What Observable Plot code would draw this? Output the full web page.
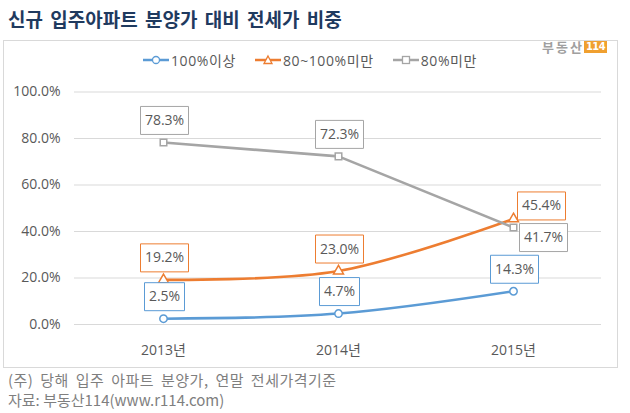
<!DOCTYPE html>
<html><head><meta charset="utf-8">
<script src="https://cdn.jsdelivr.net/npm/d3@7"></script>
<script src="https://cdn.jsdelivr.net/npm/@observablehq/plot@0.6"></script>
<style>
body{margin:0;background:#fff;}
#wrap{position:relative;width:630px;height:413px;overflow:hidden;font-family:"Open Sans","Noto Sans CJK KR",sans-serif;background:#fff;}
#title{position:absolute;left:8px;top:7px;font:bold 19px "Noto Sans CJK KR",sans-serif;color:#1f3a5f;line-height:24px;white-space:nowrap;word-spacing:3px;}
#box{position:absolute;left:3px;top:40px;width:613px;height:326px;border:1px solid #d9d9d9;}
#chart{position:absolute;left:0;top:40px;}
#legend{position:absolute;top:50px;left:143px;display:flex;align-items:center;height:20px;font-size:14px;color:#595959;white-space:nowrap;letter-spacing:0.6px;}
#legend .item{display:flex;align-items:center;margin-right:19px;}
#legend svg{margin-right:2px;}
#logo{position:absolute;left:542px;top:40px;height:14px;display:flex;align-items:center;white-space:nowrap;}
#logo .t{font:bold 13px "Noto Sans CJK KR",sans-serif;color:#a0a0a0;letter-spacing:2px;line-height:14px;}
#logo .b{margin-left:0px;background:#f0a030;color:#fff;font:bold 11px "Liberation Sans Narrow","DejaVu Sans Condensed",sans-serif;line-height:12px;padding:0 2px;letter-spacing:-0.5px;}
.foot{position:absolute;left:8px;font:15px "Noto Sans CJK KR",sans-serif;color:#7f7f7f;line-height:20px;white-space:nowrap;}
#foot1{word-spacing:3px;letter-spacing:0.5px;}
</style></head>
<body>
<div id="wrap">
  <div id="title"></div>
  <div id="box"></div>
  <div id="chart"></div>
  <div id="legend"></div>
  <div id="logo"><span class="t">부동산</span><span class="b">114</span></div>
  <div class="foot" id="foot1" style="top:370px"></div>
  <div class="foot" id="foot2" style="top:390px"></div>
</div>
<script>
const titleText = "신규 입주아파트 분양가 대비 전세가 비중";
const noteText = "(주) 당해 입주 아파트 분양가, 연말 전세가격기준";
const sourceText = "자료: 부동산114(www.r114.com)";
const years = ["2013년", "2014년", "2015년"];
const seriesNames = ["100%이상", "80~100%미만", "80%미만"];
const over100 = [2.5, 4.7, 14.3];
const from80to100 = [19.2, 23.0, 45.4];
const under80 = [78.3, 72.3, 41.7];
const yTicks = [0, 20, 40, 60, 80, 100];

const colors = ["#5b9bd5", "#ed7d31", "#a5a5a5"];
const symbols = ["circle", "triangle", "square"];

document.getElementById("title").textContent = titleText;
document.getElementById("foot1").textContent = noteText;
document.getElementById("foot2").textContent = sourceText;

const rows = [over100, from80to100, under80].flatMap((vals, si) =>
  vals.map((v, i) => ({year: years[i], series: seriesNames[si], value: v})));

// legend
const legend = document.getElementById("legend");
seriesNames.forEach((name, i) => {
  const item = document.createElement("div");
  item.className = "item";
  const c = colors[i];
  let marker;
  if (symbols[i] === "circle") marker = `<circle cx="13" cy="6" r="3.5" fill="#fff" stroke="${c}" stroke-width="1.3"/>`;
  else if (symbols[i] === "triangle") marker = `<path d="M13,2 L17,9.5 L9,9.5 Z" fill="#fff" stroke="${c}" stroke-width="1.3"/>`;
  else marker = `<rect x="9.5" y="2.5" width="7" height="7" fill="#fff" stroke="${c}" stroke-width="1.3"/>`;
  item.innerHTML = `<svg width="26" height="12"><line x1="0" x2="26" y1="6" y2="6" stroke="${c}" stroke-width="2.5"/>${marker}</svg><span>${name}</span>`;
  legend.appendChild(item);
});

const box = (w, h) => ({draw(ctx) { ctx.rect(-w / 2, -h / 2, w, h); }});
const fmt = d => d.value.toFixed(1) + "%";

function labels(data, dx, dy) {
  const longD = data.filter(d => fmt(d).length > 4);
  const shortD = data.filter(d => fmt(d).length <= 4);
  return [
    Plot.dot(longD, {x: "year", y: "value", symbol: box(48, 28), stroke: "series", fill: "white", strokeWidth: 1, dx, dy}),
    Plot.dot(shortD, {x: "year", y: "value", symbol: box(40, 28), stroke: "series", fill: "white", strokeWidth: 1, dx, dy}),
    Plot.text(data, {x: "year", y: "value", text: fmt, dx, dy, fill: "#595959", fontSize: 14})
  ];
}

const last = years[years.length - 1];
const normal = rows.filter(d => !(d.year === last && d.series !== seriesNames[0]));
const specialMid = rows.filter(d => d.year === last && d.series === seriesNames[1]);
const specialLow = rows.filter(d => d.year === last && d.series === seriesNames[2]);
const smoothRows = rows.filter(d => d.series !== seriesNames[2]);
const straightRows = rows.filter(d => d.series === seriesNames[2]);

const plot = Plot.plot({
  width: 630,
  height: 328,
  marginTop: 51.5,
  marginBottom: 44,
  marginLeft: 74,
  marginRight: 29,
  style: {background: "transparent", color: "#595959", fontFamily: '"Open Sans","Noto Sans CJK KR",sans-serif', fontSize: "14px"},
  x: {type: "point", domain: years, padding: 0.5},
  y: {domain: [0, 100]},
  color: {domain: seriesNames, range: colors},
  symbol: {domain: seriesNames, range: symbols},
  marks: [
    Plot.gridY({ticks: yTicks, stroke: "#d9d9d9", strokeOpacity: 1}),
    Plot.axisY({ticks: yTicks, tickFormat: d => d.toFixed(1) + "%", tickSize: 0, tickPadding: 14, fontSize: 14, label: null}),
    Plot.axisX({tickSize: 0, tickPadding: 21, fontSize: 14, label: null}),
    Plot.line(smoothRows, {x: "year", y: "value", z: "series", stroke: "series", strokeWidth: 2.6, curve: "catmull-rom"}),
    Plot.line(straightRows, {x: "year", y: "value", z: "series", stroke: "series", strokeWidth: 2.6, curve: "linear"}),
    Plot.dot(rows, {x: "year", y: "value", symbol: "series", stroke: "series", fill: "white", r: 3.7, strokeWidth: 1.5}),
    ...labels(normal, 1, -22),
    ...labels(specialMid, 28, -13),
    ...labels(specialLow, 30, 10)
  ]
});
document.getElementById("chart").appendChild(plot);
</script>
</body></html>
